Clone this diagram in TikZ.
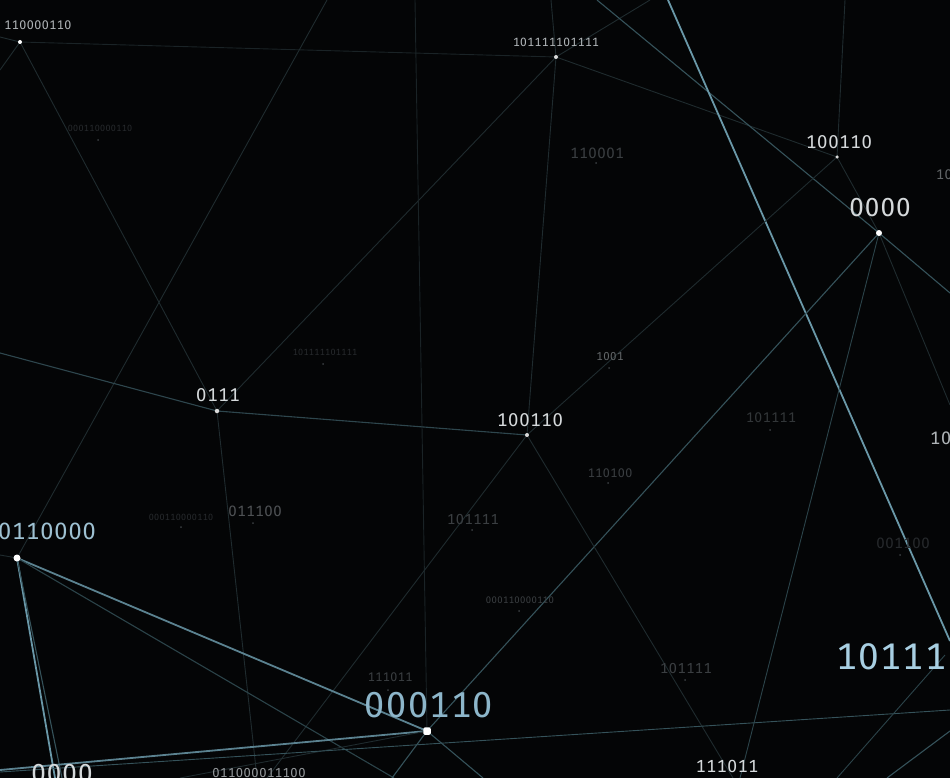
\documentclass[tikz,border=0pt]{standalone}
\usepackage{fontspec}
\newfontfamily\binfont[LetterSpace=4,Numbers={Monospaced,Lining}]{Fira Sans}
\definecolor{bg}{HTML}{040506}
\definecolor{ldim}{HTML}{1F2B2E}
\definecolor{lmid}{HTML}{35525A}
\definecolor{lbright}{HTML}{6A98A8}
\definecolor{twhite}{HTML}{D5D9DB}
\definecolor{tgray}{HTML}{AEB3B6}
\definecolor{tblue}{HTML}{8DB6CA}
\definecolor{tblue2}{HTML}{A8CFE2}
\definecolor{tfaint}{HTML}{3A3E41}
\definecolor{tfaint2}{HTML}{26292C}
\tikzset{
  dimline/.style={draw=ldim,line width=0.9pt},
  midline/.style={draw=lmid,line width=1.1pt},
  brightline/.style={draw=lbright,line width=1.8pt},
  bigdot/.style={circle,fill=white,inner sep=0pt,minimum size=#1},
  fdot/.style={circle,fill=tfaint,inner sep=0pt,minimum size=2pt},
  lbl/.style={text=twhite,inner sep=0pt,font=\binfont\fontsize{#1}{#1}\selectfont},
  glbl/.style={text=tgray,inner sep=0pt,font=\binfont\fontsize{#1}{#1}\selectfont},
  blbl/.style={text=tblue,inner sep=0pt,font=\binfont\fontsize{#1}{#1}\selectfont},
  flbl/.style={text=tfaint,inner sep=0pt,font=\binfont\fontsize{#1}{#1}\selectfont},
  ffl/.style={text=tfaint2,inner sep=0pt,font=\binfont\fontsize{#1}{#1}\selectfont},
}
\begin{document}
\begin{tikzpicture}[x=1pt,y=-1pt]
\fill[bg] (0,0) rectangle (950,778);
\useasboundingbox (0,0) rectangle (950,778);
\clip (0,0) rectangle (950,778);
% main points
\coordinate (A) at (20,42);
\coordinate (B) at (556,57);
\coordinate (C) at (837,157);
\coordinate (D) at (879,233);
\coordinate (E) at (217,411);
\coordinate (F) at (527,435);
\coordinate (G) at (17,558);
\coordinate (H) at (427,731);
% free ends
\coordinate (a1) at (0,70);
\coordinate (a2) at (0,37);
\coordinate (g1) at (327,0);
\coordinate (t1) at (415,0);
\coordinate (t2) at (551,0);
\coordinate (t3) at (650,0);
\coordinate (t4) at (597,0);
\coordinate (r1) at (950,293);
\coordinate (t5) at (668,0);
\coordinate (r2) at (950,641);
\coordinate (t6) at (845,0);
\coordinate (b1) at (740,778);
\coordinate (r3) at (950,405);
\coordinate (l1) at (0,353);
\coordinate (b2) at (257,778);
\coordinate (b3) at (267,778);
\coordinate (b4) at (733,778);
\coordinate (b5) at (394,778);
\coordinate (l2) at (0,555);
\coordinate (b6) at (55,778);
\coordinate (b7) at (62,778);
\coordinate (l3) at (0,770);
\coordinate (b8) at (180,778);
\coordinate (l4) at (0,772);
\coordinate (r4) at (950,710);
\coordinate (b9) at (392,778);
\coordinate (b10) at (483,778);
\coordinate (r5) at (945,655);
\coordinate (b11) at (837,778);
\coordinate (r6) at (950,731);
\coordinate (b12) at (887,778);
% connectors
\draw[dimline] (A) -- (E);
\draw[dimline] (A) -- (a1);
\draw[dimline] (a2) -- (A);
\draw[dimline,draw=ldim!80!bg] (A) -- (B);
\draw[dimline] (G) -- (g1);
\draw[dimline] (B) -- (E);
\draw[dimline,draw=ldim!80!bg] (t1) -- (H);
\draw[dimline] (t2) -- (B) -- (F);
\draw[dimline] (B) -- (C);
\draw[dimline] (B) -- (t3);
\draw[midline] (t4) -- (D) -- (r1);
\draw[brightline] (t5) -- (r2);
\draw[dimline] (C) -- (t6);
\draw[dimline] (C) -- (D);
\draw[dimline] (C) -- (F);
\draw[midline] (D) -- (H);
\draw[dimline,draw=lmid!80!bg] (D) -- (b1);
\draw[dimline] (D) -- (r3);
\draw[midline,draw=lmid!85!bg] (l1) -- (E) -- (F);
\draw[dimline] (E) -- (b2);
\draw[dimline] (F) -- (b3);
\draw[dimline] (F) -- (b4);
\draw[brightline,draw=lbright!85!bg] (G) -- (H);
\draw[midline,draw=lmid!80!bg] (G) -- (b5);
\draw[dimline] (l2) -- (G);
\draw[brightline] (G) -- (b6);
\draw[midline] (G) -- (b7);
\draw[brightline,draw=lbright!85!bg] (H) -- (l3);
\draw[dimline] (H) -- (b8);
\draw[midline,line width=0.9pt] (l4) -- (r4);
\draw[midline] (H) -- (b9);
\draw[midline] (H) -- (b10);
\draw[dimline,draw=lmid!80!bg] (r5) -- (b11);
\draw[midline] (r6) -- (b12);
% main dots
\node[bigdot=4pt] (dA) at (A) {};
\node[bigdot=4pt,fill=white!85!black] (dB) at (B) {};
\node[bigdot=3.5pt,fill=white!85!black] (dC) at (C) {};
\node[bigdot=6pt] (dD) at (D) {};
\node[bigdot=4.5pt,fill=white!85!black] (dE) at (E) {};
\node[bigdot=4pt,fill=white!85!black] (dF) at (F) {};
\node[bigdot=7pt] (dG) at (G) {};
\node[bigdot=7.5pt,rectangle,rounded corners=1.5pt] (dH) at (H) {};
% faint dots
\node[fdot] (f1) at (98,140) {};
\node[fdot] (f2) at (596,163) {};
\node[fdot] (f3) at (323,364) {};
\node[fdot] (f4) at (609,368) {};
\node[fdot] (f5) at (770,430) {};
\node[fdot] (f6) at (608,483) {};
\node[fdot] (f7) at (181,527) {};
\node[fdot] (f8) at (253,523) {};
\node[fdot] (f9) at (472,530) {};
\node[fdot] (f10) at (519,611) {};
\node[fdot] (f11) at (900,555) {};
\node[fdot] (f12) at (685,680) {};
\node[fdot] (f13) at (388,690) {};
% main labels
\node[glbl=12.5] (LA) at (38,25) {110000110};
\node[glbl=12] (LB) at (556,42) {101111101111};
\node[lbl=18.5] (LC) at (839,142) {100110};
\node[lbl=26] (LD) at (880,208) {0000};
\node[lbl=18.5] (LE) at (218,395) {0111};
\node[lbl=18.5] (LF) at (530,420) {100110};
\node[blbl=23.5,text=tblue!85!white,anchor=east] (LG) at (96,531) {0110000};
\node[blbl=36] (LH) at (429,705) {000110};
\node[blbl=37,text=tblue2,anchor=west] (LI) at (836,657) {10111};
\node[lbl=26] (LJ) at (62,774) {0000};
\node[glbl=13,text=tgray!85!black] (LK) at (259,773) {011000011100};
\node[lbl=17.5] (LL) at (727,766) {111011};
\node[glbl=18,anchor=west] (LM) at (930,438) {101};
\node[flbl=14,anchor=west,text=tfaint!80!white] (LN) at (936,175) {10};
% faint labels
\node[ffl=9] (n1) at (100,128) {000110000110};
\node[flbl=15] (n2) at (597,153) {110001};
\node[ffl=9] (n3) at (325,352) {101111101111};
\node[flbl=11.5,text=tfaint!80!white] (n4) at (610,357) {1001};
\node[flbl=14,text=tfaint!85!bg] (n5) at (771,418) {101111};
\node[flbl=12.5] (n6) at (610,473) {110100};
\node[ffl=9] (n7) at (181,517) {000110000110};
\node[flbl=15,text=tfaint!90!white] (n8) at (255,511) {011100};
\node[flbl=14.5] (n9) at (473,520) {101111};
\node[ffl=9.5,text=tfaint] (n10) at (520,600) {000110000110};
\node[ffl=15] (n11) at (903,543) {001100};
\node[flbl=14.5] (n12) at (686,668) {101111};
\node[flbl=12.5] (n13) at (390,677) {111011};
\end{tikzpicture}
\end{document}
